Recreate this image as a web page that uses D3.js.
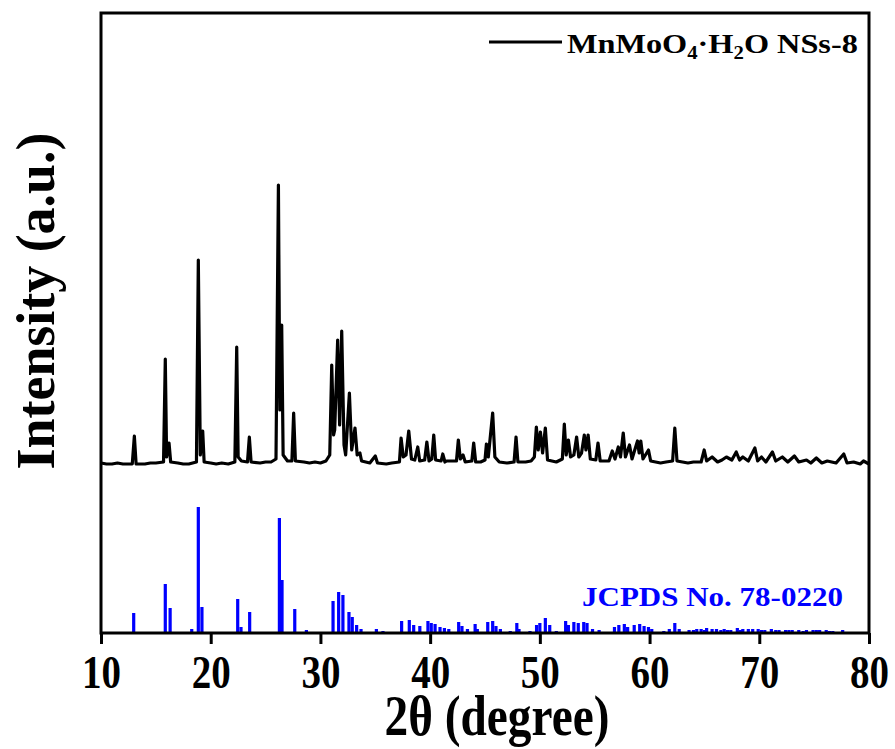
<!DOCTYPE html>
<html><head><meta charset="utf-8">
<script src="https://cdn.jsdelivr.net/npm/d3@7"></script>
<style>body{margin:0;background:#fff}</style>
</head><body>
<svg id="chart" width="895" height="749"></svg>
<script>
// ---------- data ----------
const xTicks = [10, 20, 30, 40, 50, 60, 70, 80];
const sampleLabel = "MnMoO4·H2O NSs-8";
const refLabel = "JCPDS No. 78-0220";
const xTitle = "2θ (degree)";
const yTitle = "Intensity (a.u.)";
const sampleOffset = 168;

// measured XRD pattern: [2θ, intensity]
const samplePattern = [
 [10.0,2],[10.5,1],[11.0,1],[11.5,2],[12.0,1],[12.85,1],[13.04,29],[13.2,1],[14.0,1],[14.5,2],[15.0,2],[15.7,3],
 [15.86,106],[15.98,8],[16.2,22],[16.35,3],[17.0,2],[17.5,1],[18.0,1],[18.7,3],[18.87,205],[19.05,10],
 [19.27,34],[19.4,3],[20.0,2],[20.5,1],[21.0,2],[21.6,1],[22.2,3],[22.37,118],[22.5,8],[22.8,4],[23.35,3],
 [23.52,28],[23.68,3],[24.5,2],[25.0,3],[25.5,3],[25.95,6],[26.17,280],[26.3,55],[26.47,140],[26.6,10],
 [27.0,4],[27.4,4],[27.56,52],[27.72,4],[28.5,3],[29.0,2],[29.5,3],[30.0,2],[30.5,4],[30.85,10],[31.03,100],
 [31.2,30],[31.3,35],[31.57,125],[31.75,40],[31.94,134],[32.15,20],[32.3,10],[32.64,72],
 [32.85,15],[33.15,37],[33.35,10],[33.6,12],[33.75,4],[34.5,2],[35.0,9],[35.2,2],[36.0,1],[36.5,2],
 [37.2,3],[37.35,27],[37.55,8],[37.8,10],[38.05,34],[38.3,6],[38.6,5],[38.87,18],[39.05,4],
 [39.5,5],[39.7,23],[39.9,4],[40.15,6],[40.33,30],[40.5,5],[41.0,4],[41.15,11],[41.35,3],
 [41.5,4],[42.4,4],[42.57,25],[42.75,6],[43.0,10],[43.2,3],[43.8,4],[43.97,22],[44.15,3],
 [44.6,3],[45.0,5],[45.13,21],[45.3,8],[45.7,52],[45.9,8],[46.3,3],[47.0,2],[47.65,3],[47.83,28],[48.0,3],
 [48.7,3],[49.2,4],[49.5,8],[49.68,38],[49.85,15],[50.05,33],[50.25,12],[50.5,37],[50.7,5],
 [51.5,3],[52.05,6],[52.23,41],[52.4,10],[52.6,25],[52.8,8],[53.1,10],[53.35,28],[53.55,8],
 [53.8,12],[54.05,30],[54.2,15],[54.4,30],[54.6,6],[55.1,5],[55.3,22],[55.5,4],[56.3,4],
 [56.6,14],[56.85,6],[57.15,18],[57.35,8],[57.6,32],[57.8,8],[58.17,20],[58.4,6],[58.9,24],
 [59.05,12],[59.2,24],[59.4,6],[59.9,15],[60.1,4],[61.0,2],[61.5,3],[62.1,4],[62.3,37],[62.5,4],
 [63.0,3],[63.5,2],[64.0,3],[64.7,3],[64.98,15],[65.2,4],[65.7,8],[66.2,3],[66.6,5],[67.0,8],[67.5,5],[67.9,13],
 [68.2,5],[68.5,8],[69.0,4],[69.6,17],[69.85,4],[70.2,8],[70.6,3],[71.2,13],[71.5,4],
 [72.1,8],[72.6,3],[73.2,9],[73.6,3],[74.3,5],[74.7,2],[75.2,7],[75.7,2],[76.2,4],[77.0,2],
 [77.7,11],[78.0,2],[78.6,3],[79.2,1],[79.5,4],[80.0,1]
];

// reference card lines
const refAngles = [12.98,15.86,16.3,18.27,18.87,19.2,22.46,22.76,23.55,26.26,26.5,27.66,28.72,
 31.15,31.66,32.05,32.6,32.9,33.3,33.7,35.1,35.7,36.9,37.4,38.1,38.5,39.06,39.8,40.1,40.45,
 40.9,41.3,41.7,42.6,42.9,43.4,44.1,44.3,45.25,45.7,46.0,46.4,47.3,47.9,48.1,49.1,49.7,50.0,
 50.5,50.9,51.5,52.35,52.6,53.1,53.5,54.0,54.3,54.8,55.4,56.8,57.2,57.7,58.0,58.6,59.1,59.5,
 59.9,60.2,61.3,61.8,62.3,62.7,63.6,64.0,64.3,64.7,65.0,65.2,65.7,66.1,66.5,66.8,67.1,67.4,
 68.0,68.3,68.5,69.0,69.4,69.9,70.2,70.5,71.1,71.5,71.8,72.4,72.7,73.0,73.6,74.0,74.3,74.9,
 75.2,75.5,76.1,76.4,76.7,77.6];
const refIntensities = [20,49,25,4,126,26,34,6,21,115,53,24,3,
 32,41,38,21,16,8,4,4,2,1,12,13,8,7,12,10,9,
 6,5,4,11,7,4,9,4,11,12,7,4,2,10,4,2,8,10,
 15,8,2,12,8,11,10,11,10,4,3,6,8,9,6,8,9,7,
 6,4,2,4,10,4,3,3,4,4,3,5,4,4,3,4,3,3,
 5,3,4,4,4,4,3,3,4,3,3,3,3,3,3,2,3,3,
 3,3,3,2,2,3];

// ---------- layout ----------
const svg = d3.select("#chart");
const L = 101, R = 869, T = 13, B = 633;
const x = d3.scaleLinear().domain([10, 80]).range([L, R]);
const y = d3.scaleLinear().domain([0, 620]).range([B, T]);
const FONT = "'Liberation Serif','Times New Roman',serif";

// reference bars
svg.append("g").selectAll("rect").data(refAngles).join("rect")
  .attr("x", d => x(d) - 1.6)
  .attr("width", 3.2)
  .attr("y", (d, i) => y(refIntensities[i]))
  .attr("height", (d, i) => y(0) - y(refIntensities[i]))
  .attr("fill", "#0000ff");

// sample line
const line = d3.line().x(d => x(d[0])).y(d => y(d[1] + sampleOffset));
svg.append("path").datum(samplePattern)
  .attr("d", line).attr("fill", "none").attr("stroke", "#000")
  .attr("stroke-width", 3.2).attr("stroke-linejoin", "round");

// frame
svg.append("rect").attr("x", L).attr("y", T).attr("width", R - L).attr("height", B - T)
  .attr("fill", "none").attr("stroke", "#000").attr("stroke-width", 3);

// x axis
const ax = svg.append("g").attr("transform", `translate(0,${B})`)
  .call(d3.axisBottom(x).tickValues(xTicks).tickSize(11).tickFormat(d3.format("d")));
ax.select(".domain").remove();
ax.selectAll(".tick line").attr("stroke", "#000").attr("stroke-width", 3);
ax.selectAll(".tick text")
  .attr("y", 55).attr("dy", 0)
  .attr("font-family", FONT).attr("font-weight", "bold").attr("font-size", 46)
  .attr("fill", "#000")
  .attr("textLength", 39).attr("lengthAdjust", "spacingAndGlyphs");

function fitText(sel, targetW, tx, ty, rot) {
  const w = sel.node().getComputedTextLength();
  const s = targetW / w;
  sel.attr("transform", `translate(${tx},${ty}) rotate(${rot || 0}) scale(${s},1)`);
}

// axis titles
const xt = svg.append("text").text(xTitle)
  .attr("font-family", FONT).attr("font-weight", "bold").attr("font-size", 57)
  .attr("text-anchor", "middle");
fitText(xt, 225, 497, 735);

const yt = svg.append("text").text(yTitle)
  .attr("font-family", FONT).attr("font-weight", "bold").attr("font-size", 54)
  .attr("text-anchor", "middle");
fitText(yt, 337, 54, 301, -90);

// legend
svg.append("line").attr("x1", 489).attr("x2", 562).attr("y1", 42).attr("y2", 42)
  .attr("stroke", "#000").attr("stroke-width", 3);
const lg = svg.append("text")
  .attr("font-family", FONT).attr("font-weight", "bold").attr("font-size", 28);
lg.append("tspan").text("MnMoO");
lg.append("tspan").text("4").attr("font-size", 18).attr("dy", 6);
lg.append("tspan").text("·H").attr("dy", -6);
lg.append("tspan").text("2").attr("font-size", 18).attr("dy", 6);
lg.append("tspan").text("O NSs-8").attr("dy", -6);
fitText(lg, 291, 567, 53);

const rt = svg.append("text").text(refLabel)
  .attr("font-family", FONT).attr("font-weight", "bold").attr("font-size", 27)
  .attr("fill", "#0000ff");
fitText(rt, 261, 582, 606);
</script>
</body></html>
